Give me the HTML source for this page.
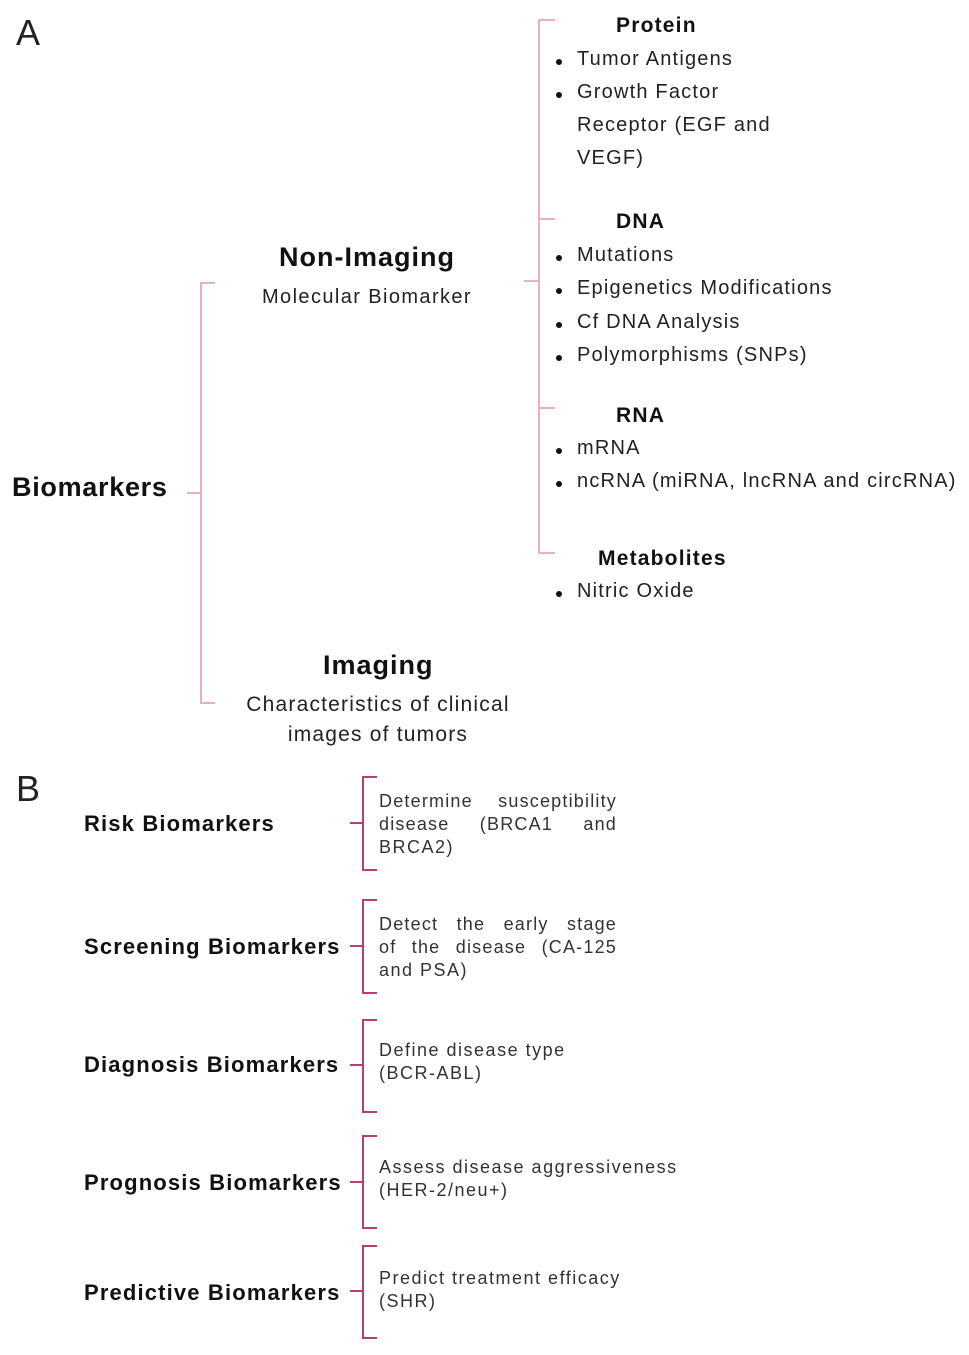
<!DOCTYPE html>
<html><head><meta charset="utf-8"><style>
body{margin:0;width:969px;height:1355px;background:#fff;position:relative;font-family:"Liberation Sans",sans-serif;color:#222;overflow:hidden}
.t{position:absolute;white-space:nowrap}
.b{font-weight:bold;color:#111}
.li{position:absolute;left:577px;font-size:20px;white-space:nowrap;color:#222;letter-spacing:1.2px}
.li:before{content:"";position:absolute;left:-21px;top:11px;width:6px;height:6px;border-radius:50%;background:#111}
.h{position:absolute;font-weight:bold;font-size:21px;color:#111;letter-spacing:1.2px}
.bl{position:absolute;left:84px;font-weight:bold;font-size:22px;color:#111;white-space:nowrap;letter-spacing:1.15px}
.bt{position:absolute;left:379px;font-size:18px;line-height:23px;color:#333;letter-spacing:1.5px;white-space:nowrap}
.j{width:238px;text-align:justify;text-align-last:justify;white-space:normal;letter-spacing:1.2px}
</style></head><body>
<svg width="969" height="1355" style="position:absolute;left:0;top:0">
<g stroke="#eab0c0" stroke-width="2" fill="none">
<path d="M215 283H201V703H215M187 493H201"/>
<path d="M555 20H539V553H555M539 219H555M539 408H555M524 281H539"/>
</g>
<g stroke="#b5406f" stroke-width="2" fill="none">
<path d="M377 777H363V870H377M350 823H363"/>
<path d="M377 900H363V993H377M350 946H363"/>
<path d="M377 1020H363V1112H377M350 1065H363"/>
<path d="M377 1136H363V1228H377M350 1182H363"/>
<path d="M377 1246H363V1338H377M350 1291H363"/>
</g>
</svg>
<div class="t" style="left:16px;top:12px;font-size:36px;color:#222">A</div>
<div class="t" style="left:16px;top:768px;font-size:36px;color:#222">B</div>
<div class="t b" style="left:12px;top:472px;font-size:27px;letter-spacing:0.7px">Biomarkers</div>
<div class="t b" style="left:279px;top:242px;font-size:27px;letter-spacing:1px">Non-Imaging</div>
<div class="t" style="left:262px;top:286px;font-size:20px;letter-spacing:1.4px">Molecular Biomarker</div>
<div class="t b" style="left:323px;top:650px;font-size:27px;letter-spacing:1px">Imaging</div>
<div class="t" style="left:246px;top:690px;font-size:21px;text-align:center;width:264px;line-height:30px;letter-spacing:1.2px">Characteristics of clinical<br>images of tumors</div>
<div class="h" style="left:616px;top:14px">Protein</div>
<div class="li" style="top:48px">Tumor Antigens</div>
<div class="li" style="top:81px">Growth Factor</div>
<div class="t" style="left:577px;top:114px;font-size:20px;letter-spacing:1.2px">Receptor (EGF and</div>
<div class="t" style="left:577px;top:147px;font-size:20px;letter-spacing:1.2px">VEGF)</div>
<div class="h" style="left:616px;top:210px">DNA</div>
<div class="li" style="top:244px">Mutations</div>
<div class="li" style="top:277px">Epigenetics Modifications</div>
<div class="li" style="top:311px">Cf DNA Analysis</div>
<div class="li" style="top:344px">Polymorphisms (SNPs)</div>
<div class="h" style="left:616px;top:404px">RNA</div>
<div class="li" style="top:437px">mRNA</div>
<div class="li" style="top:470px">ncRNA (miRNA, lncRNA and circRNA)</div>
<div class="h" style="left:598px;top:547px">Metabolites</div>
<div class="li" style="top:580px">Nitric Oxide</div>
<div class="bl" style="top:811px">Risk Biomarkers</div>
<div class="bl" style="top:934px">Screening Biomarkers</div>
<div class="bl" style="top:1052px">Diagnosis Biomarkers</div>
<div class="bl" style="top:1170px">Prognosis Biomarkers</div>
<div class="bl" style="top:1280px">Predictive Biomarkers</div>
<div class="bt j" style="top:790px">Determine susceptibility</div>
<div class="bt j" style="top:813px">disease (BRCA1 and</div>
<div class="bt" style="top:836px">BRCA2)</div>
<div class="bt j" style="top:913px">Detect the early stage</div>
<div class="bt j" style="top:936px">of the disease (CA-125</div>
<div class="bt" style="top:959px">and PSA)</div>
<div class="bt" style="top:1039px">Define disease type<br>(BCR-ABL)</div>
<div class="bt" style="top:1156px">Assess disease aggressiveness<br>(HER-2/neu+)</div>
<div class="bt" style="top:1267px">Predict treatment efficacy<br>(SHR)</div>
</body></html>
